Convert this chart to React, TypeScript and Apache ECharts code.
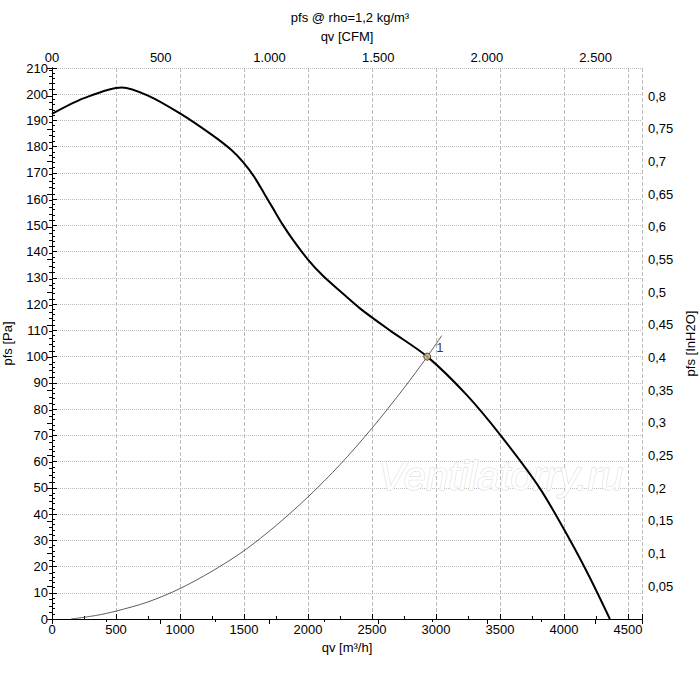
import React, { useEffect, useRef } from "react";
import * as echarts from "echarts";

const fanCurve: [number, number][] = [
  [0, 192.5], [250, 198.5], [545, 202.6], [750, 199.5], [1000, 192.7], [1250, 184.5], [1400, 178.8],
  [1495, 174], [1580, 168.5], [1660, 162], [1727, 156.5], [1800, 150.5], [1883, 144.5], [2000, 137],
  [2117, 130.8], [2250, 125], [2406, 118.4], [2640, 110], [2932, 100], [3240, 85.4], [3513, 69.5],
  [3812, 49.8], [4047, 30.1], [4200, 16], [4359, 0],
];
const systemCurve: [number, number][] = [
  [150, 0], [350, 1.4], [500, 3], [750, 6.5], [1000, 11.6], [1250, 18.2], [1500, 26], [1750, 35.6],
  [2000, 46.5], [2250, 58.8], [2500, 72.7], [2750, 88], [2932, 100], [3045, 108],
];
const operatingPoint: [number, number][] = [[2932, 100]];
const xMax = 4610;
const yMax = 210;
const cfmFactor = 1.699;
const inh2oFactor = 249.09;

const FONT = "Liberation Sans";

export default function App() {
  const ref = useRef<HTMLDivElement>(null);
  useEffect(() => {
    document.body.style.margin = "0";
    const chart = echarts.init(ref.current!, null, { renderer: "svg" });
    const grey = { type: "dashed" as const, color: "#bbb" };
    const fmtDot = (v: number) => {
      if (v === 0) return "00";
      const s = String(Math.round(v));
      return s.length > 3 ? s.slice(0, -3) + "." + s.slice(-3) : s;
    };
    chart.setOption({
      animation: false,
      textStyle: { fontFamily: FONT },
      grid: { left: 52, right: 58, top: 68, bottom: 54, containLabel: false, outerBoundsMode: "none" },
      title: {
        text: "pfs @ rho=1,2 kg/m³", left: "center", top: 6,
        textStyle: { fontSize: 13, fontWeight: "normal", color: "#000", fontFamily: FONT },
      },
      xAxis: [
        {
          type: "value", min: 0, max: xMax, interval: 500, position: "bottom",
          name: "qv [m³/h]", nameLocation: "middle", nameGap: 22,
          nameTextStyle: { fontSize: 13, color: "#000" },
          axisLine: { lineStyle: { color: "#000" } },
          axisTick: { inside: true, length: 5, lineStyle: { color: "#000" } },
          minorTick: { show: true, splitNumber: 2, length: 3, lineStyle: { color: "#000" } },
          axisLabel: { color: "#000", fontSize: 13, margin: 4, showMaxLabel: false, formatter: (v: number) => String(v) },
          splitLine: { show: true, lineStyle: { ...grey, width: 1 } },
        },
        {
          type: "value", min: 0, max: xMax / cfmFactor, interval: 500, position: "top",
          name: "qv [CFM]", nameLocation: "middle", nameGap: 25,
          nameTextStyle: { fontSize: 13, color: "#000" },
          axisLine: { lineStyle: { color: "#000" } },
          axisTick: { inside: true, length: 5, lineStyle: { color: "#000" } },
          minorTick: { show: true, splitNumber: 2, length: 3, lineStyle: { color: "#000" } },
          axisLabel: { color: "#000", fontSize: 13, margin: 4, showMaxLabel: false, formatter: fmtDot },
          splitLine: { show: false },
        },
      ],
      yAxis: [
        {
          type: "value", min: 0, max: yMax, interval: 10, position: "left",
          name: "pfs [Pa]", nameLocation: "middle", nameGap: 38,
          nameTextStyle: { fontSize: 13, color: "#000" },
          axisLine: { show: true, lineStyle: { color: "#000" } },
          axisTick: { inside: true, length: 5, lineStyle: { color: "#000" } },
          minorTick: { show: true, splitNumber: 5, length: 3, lineStyle: { color: "#000" } },
          axisLabel: { color: "#000", fontSize: 13, margin: 4 },
          splitLine: { show: true, lineStyle: { type: "dotted", color: "#bbb" } },
        },
        {
          type: "value", min: 0, max: yMax / inh2oFactor, interval: 0.05, position: "right",
          name: "pfs [InH2O]", nameLocation: "middle", nameGap: 38, nameRotate: 90,
          nameTextStyle: { fontSize: 13, color: "#000" },
          axisLine: { show: true, lineStyle: { color: "#000" } },
          axisTick: { inside: true, length: 5, lineStyle: { color: "#000" } },
          minorTick: { show: true, splitNumber: 5, length: 3, lineStyle: { color: "#000" } },
          axisLabel: {
            color: "#000", fontSize: 13, margin: 6, showMinLabel: false, showMaxLabel: false,
            formatter: (v: number) => String(Math.round(v * 100) / 100).replace(".", ","),
          },
          splitLine: { show: false },
        },
      ],
      graphic: [
        {
          type: "text", left: 378, top: 455, silent: true, z: 1,
          style: {
            text: "Ventilatorry.ru", font: "italic 40px " + FONT,
            fill: "#ffffff", stroke: "#d8d8d8", lineWidth: 1,
          },
        },
      ],
      series: [
        {
          type: "line", data: systemCurve, smooth: 0.3, symbol: "none",
          lineStyle: { color: "#333", width: 0.8 }, z: 2,
        },
        {
          type: "line", data: fanCurve, smooth: 0.3, symbol: "none",
          lineStyle: { color: "#000", width: 2 }, z: 3,
        },
        {
          type: "scatter", data: operatingPoint, symbol: "circle", symbolSize: 7,
          itemStyle: { color: "#d8b783", borderColor: "#222", borderWidth: 1 }, z: 5,
          label: {
            show: true, formatter: "{a|1}", position: [13, -12],
            rich: { a: { color: "#000000", fontSize: 13, fontFamily: FONT } },
          },
        },
      ],
    });
    return () => chart.dispose();
  }, []);
  return <div ref={ref} style={{ width: 700, height: 673 }} />;
}
